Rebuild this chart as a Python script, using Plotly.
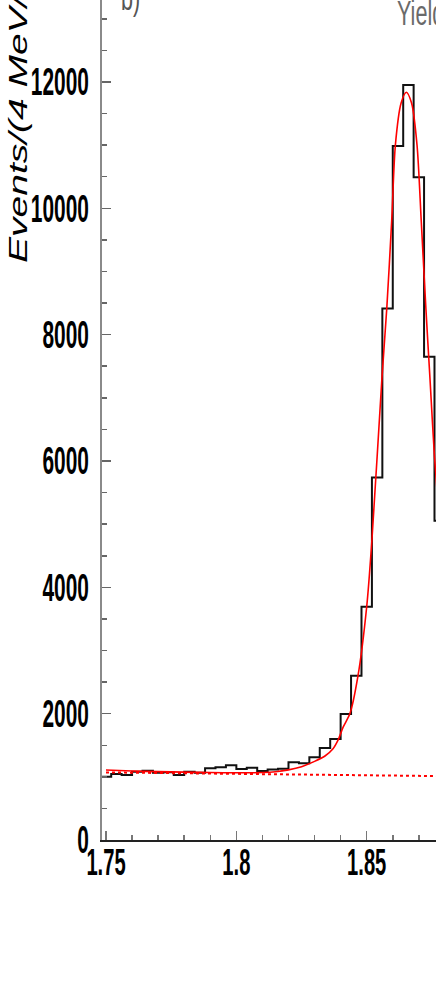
import plotly.graph_objects as go

# ---- data ----
bin_centers = [1.750, 1.754, 1.758, 1.762, 1.766, 1.770, 1.774, 1.778, 1.782, 1.786,
               1.790, 1.794, 1.798, 1.802, 1.806, 1.810, 1.814, 1.818, 1.822, 1.826,
               1.830, 1.834, 1.838, 1.842, 1.846, 1.850, 1.854, 1.858, 1.862, 1.866,
               1.870, 1.874, 1.878]
counts = [1002, 1045, 1029, 1081, 1097, 1066, 1071, 1029, 1081, 1066,
          1135, 1150, 1182, 1124, 1145, 1092, 1118, 1129, 1230, 1214,
          1309, 1456, 1599, 1995, 2601, 3693, 5740, 8414, 10987, 11953,
          10491, 7650, 5055]
bin_width = 0.004

fit_x = [1.7500, 1.7600, 1.7700, 1.7800, 1.7900, 1.8000, 1.8100, 1.8150, 1.8200, 1.8250,
         1.8300, 1.8340, 1.8370, 1.8390, 1.8410, 1.8436, 1.8466, 1.8500, 1.8520, 1.8558,
         1.8577, 1.8596, 1.8610, 1.8632, 1.8652, 1.8672, 1.8693, 1.8709, 1.8727, 1.8743,
         1.8760, 1.8790]
fit_y = [1108, 1093, 1082, 1074, 1068, 1064, 1068, 1080, 1110, 1160,
         1245, 1330, 1440, 1580, 1790, 2006, 2585, 3693, 4749, 7282,
         8417, 9815, 11003, 11666, 11837, 11666, 11003, 9815, 8417, 7282,
         6068, 4430]

bkg_x = [1.750, 1.880]
bkg_y = [1070, 1011]

x_tickvals = [1.75, 1.80, 1.85]
x_ticktext = ["1.75", "1.8", "1.85"]
y_tickvals = [0, 2000, 4000, 6000, 8000, 10000, 12000]
y_ticktext = ["0", "2000", "4000", "6000", "8000", "10000", "12000"]

y_title = "Events/(4 MeV/c<sup>2</sup>)"
panel_label = "b)"
box_text = "Yield"

# ---- build step outline from bin centers ----
step_x = [c - bin_width / 2 for c in bin_centers] + [bin_centers[-1] + bin_width / 2]
step_y = counts + [counts[-1]]

fig = go.Figure()
fig.add_trace(go.Scatter(x=step_x, y=step_y, mode="lines", line_shape="hv",
                         line=dict(color="#111111", width=2), showlegend=False,
                         hoverinfo="skip"))
fig.add_trace(go.Scatter(x=bkg_x, y=bkg_y, mode="lines",
                         line=dict(color="#ff0000", width=2, dash="dot"),
                         showlegend=False, hoverinfo="skip"))
fig.add_trace(go.Scatter(x=fit_x, y=fit_y, mode="lines", line_shape="spline",
                         line=dict(color="#ff0000", width=1.6, smoothing=0.8),
                         showlegend=False, hoverinfo="skip"))

fam = "Liberation Sans, Arial, sans-serif"
yfont = dict(family=fam, size=38, color="black", weight="bold")
xfont = dict(family=fam, size=36, color="black", weight="bold")

fig.update_layout(
    template="none",
    width=436, height=981,
    margin=dict(l=102, r=0, t=0, b=141, pad=0, autoexpand=False),
    paper_bgcolor="white", plot_bgcolor="white",
    xaxis=dict(range=[1.74847, 1.87658], automargin=False, showline=True,
               linecolor="#222222", linewidth=2,
               ticks="inside", ticklen=9, tickwidth=1.5, tickcolor="#777777",
               tickmode="array", tickvals=x_tickvals, ticktext=x_ticktext,
               tickfont=xfont, ticklabelstandoff=-10, showgrid=False, zeroline=False,
               minor=dict(ticks="inside", ticklen=5, tickwidth=1.5, tickcolor="#777777",
                          tickmode="linear", tick0=1.75, dtick=0.01, showgrid=False)),
    yaxis=dict(range=[0, 13298], automargin=False, showline=True,
               linecolor="#8a8a8a", linewidth=2.5,
               ticks="inside", ticklen=9, tickwidth=1.5, tickcolor="#666666",
               tickmode="array", tickvals=y_tickvals, ticktext=y_ticktext,
               tickfont=yfont, ticklabelstandoff=3, showgrid=False, zeroline=False,
               minor=dict(ticks="inside", ticklen=5, tickwidth=1.5, tickcolor="#666666",
                          tickmode="linear", tick0=0, dtick=500, showgrid=False)),
    annotations=[
        dict(text=y_title, xref="paper", yref="paper", x=-0.2563, y=0.685,
             xanchor="center", yanchor="bottom", textangle=-90, showarrow=False,
             font=dict(family=fam, size=39, color="black", style="italic")),
        dict(text=panel_label, xref="paper", yref="paper", x=(119 - 102) / 334, y=1.030,
             xanchor="left", yanchor="top", showarrow=False,
             font=dict(family=fam, size=36, color="#555555")),
        dict(text=box_text, xref="paper", yref="paper", x=(395 - 102) / 334, y=1.0115,
             xanchor="left", yanchor="top", showarrow=False,
             font=dict(family=fam, size=36, color="#6a6a6a")),
    ],
)

post_js = """
document.documentElement.style.margin = '0';
document.body.style.margin = '0';
document.body.style.padding = '0';
function squeeze(el, sx, sy, mode) {
  var b = el.getBBox();
  var ax = mode === 'end' ? b.x + b.width : (mode === 'start' ? b.x : b.x + b.width / 2);
  var ay = b.y + b.height / 2;
  var t = el.getAttribute('transform') || '';
  el.setAttribute('transform', t + ' translate(' + ax + ',' + ay + ') scale(' + sx + ',' + sy + ') translate(' + (-ax) + ',' + (-ay) + ')');
}
document.querySelectorAll('.xtick text').forEach(function(el){ squeeze(el, 0.56, 1, 'middle'); });
document.querySelectorAll('.ytick text').forEach(function(el){ squeeze(el, 0.55, 1, 'end'); });
document.querySelectorAll('.annotation-text').forEach(function(el){
  var s = el.textContent || '';
  if (s.indexOf('Events') === 0) { squeeze(el, 1, 0.64, 'middle'); }
  else { squeeze(el, 0.6, 1, 'start'); }
});
"""

fig.write_html("out.html", post_script=post_js,
               config={"displayModeBar": False, "staticPlot": True})
